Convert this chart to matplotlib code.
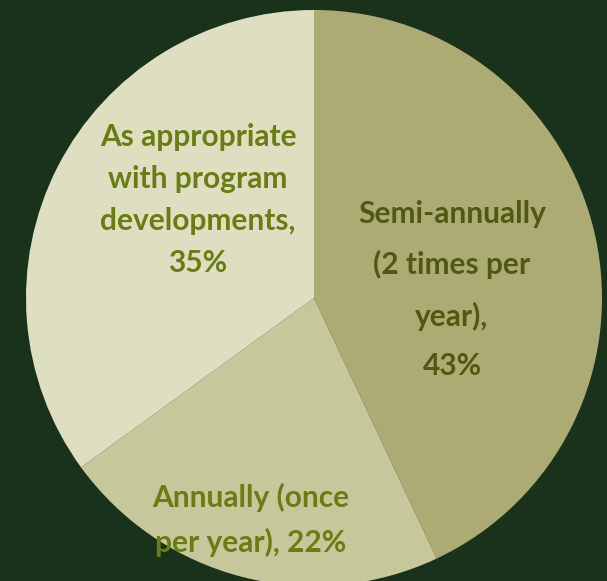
import matplotlib.pyplot as plt

# survey answers, clockwise from 12 o'clock
labels = ["Semi-annually\n(2 times per\nyear),\n43%",
          "Annually (once\nper year), 22%",
          "As appropriate\nwith program\ndevelopments,\n35%"]
shares = [43, 22, 35]

bg = "#1a321b"
colors = ["#adab74", "#c6c79b", "#dedfc0"]
text_cols = ["#4f5912", "#6b7c12", "#6b7c12"]

W, H = 607, 581
fig = plt.figure(figsize=(W / 100, H / 100), dpi=100, facecolor=bg)
ax = fig.add_axes([0, 0, 1, 1])
ax.set_facecolor(bg)

cx, cy, r = 314, H - 298, 288
ax.pie(shares, colors=colors, startangle=90, counterclock=False,
       center=(cx, cy), radius=r, wedgeprops=dict(linewidth=0))

# label spots (pixel offsets from the pie centre), hand placed like the original
spots = [(138, 8), (-63, -222), (-116, 98)]
spacing = [1.92, 1.68, 1.6]
for lab, (dx, dy), col, ls in zip(labels, spots, text_cols, spacing):
    ax.text(cx + dx, cy + dy, lab, ha="center", va="center", color=col,
            fontsize=21.5, fontweight="bold", family="Lato",
            linespacing=ls)

ax.set_xlim(0, W)
ax.set_ylim(0, H)
ax.set_aspect("equal")
ax.axis("off")

fig.savefig("out.png", dpi=100, facecolor=bg)
